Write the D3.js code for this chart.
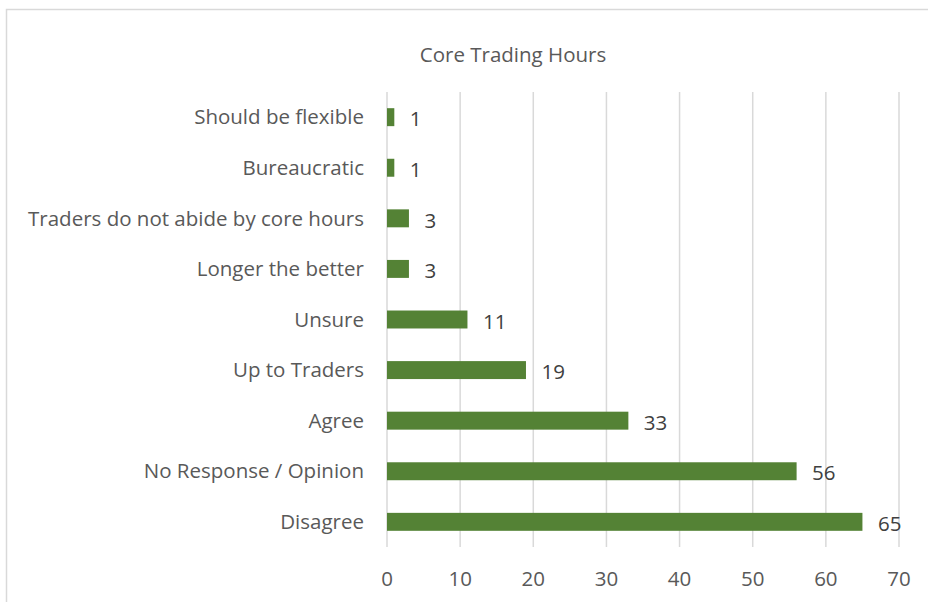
<!DOCTYPE html>
<html>
<head>
<meta charset="utf-8">
<script src="https://cdn.jsdelivr.net/npm/d3@7"></script>
<style>
  body { margin: 0; background: #fff; }
  text { font-family: "Open Sans", sans-serif; fill: #595959; }
</style>
</head>
<body>
<script>
// data, top to bottom
var categories = ['Should be flexible', 'Bureaucratic', 'Traders do not abide by core hours',
    'Longer the better', 'Unsure', 'Up to Traders', 'Agree', 'No Response / Opinion', 'Disagree']
var counts = [1, 1, 3, 3, 11, 19, 33, 56, 65]
var xTicks = [0, 10, 20, 30, 40, 50, 60, 70]
var title = 'Core Trading Hours'

var width = 928,
    height = 602
var margin = {top: 92, right: 29, bottom: 55, left: 387}
var fontSize = '20.5px'

var svg = d3.select('body').append('svg')
    .attr('width', width)
    .attr('height', height)

// outer chart border (runs off the right/bottom edge)
svg.append('rect')
    .attr('x', 6.5)
    .attr('y', 9.5)
    .attr('width', 940)
    .attr('height', 620)
    .attr('fill', 'none')
    .attr('stroke', '#d9d9d9')
    .attr('stroke-width', 1.5)

svg.append('text')
    .attr('x', 513)
    .attr('y', 62)
    .attr('text-anchor', 'middle')
    .style('font-size', fontSize)
    .text(title)

var x = d3.scaleLinear()
    .domain([0, 70])
    .range([margin.left, width - margin.right])

var y = d3.scaleBand()
    .domain(categories)
    .range([margin.top, height - margin.bottom])
    .paddingInner(0.645)
    .paddingOuter(0.32)

// vertical gridlines
svg.append('g')
    .selectAll('line')
    .data(xTicks).enter()
    .append('line')
    .attr('x1', d => x(d))
    .attr('x2', d => x(d))
    .attr('y1', margin.top)
    .attr('y2', height - margin.bottom)
    .attr('stroke', '#d9d9d9')
    .attr('stroke-width', 1.5)

// x tick labels
svg.append('g')
    .selectAll('text')
    .data(xTicks).enter()
    .append('text')
    .attr('x', d => x(d))
    .attr('y', 586)
    .attr('text-anchor', 'middle')
    .style('font-size', fontSize)
    .text(String)

// category labels
svg.append('g')
    .selectAll('text')
    .data(categories).enter()
    .append('text')
    .attr('x', x(0) - 23)
    .attr('y', d => y(d) + y.bandwidth() / 2)
    .attr('dy', '0.35em')
    .attr('text-anchor', 'end')
    .style('font-size', fontSize)
    .text(String)

var rows = categories.map((c, i) => ({cat: c, val: counts[i]}))

svg.append('g')
    .selectAll('rect')
    .data(rows).enter()
    .append('rect')
    .attr('x', x(0))
    .attr('y', d => y(d.cat))
    .attr('width', d => x(d.val) - x(0))
    .attr('height', y.bandwidth())
    .attr('fill', '#548235')

// value labels
svg.append('g')
    .selectAll('text')
    .data(rows).enter()
    .append('text')
    .attr('x', d => x(d.val) + 15.5)
    .attr('y', d => y(d.cat) + y.bandwidth() / 2)
    .attr('dy', '0.45em')
    .style('font-size', fontSize)
    .style('fill', '#404040')
    .text(d => d.val)
</script>
</body>
</html>
